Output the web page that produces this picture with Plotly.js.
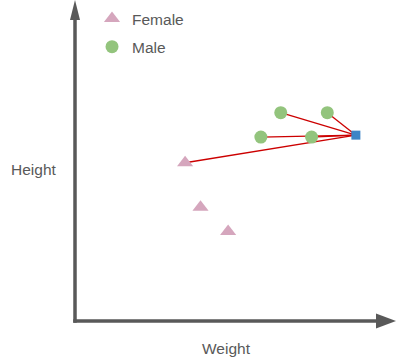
<!DOCTYPE html>
<html><head><meta charset="utf-8">
<script src="https://cdn.plot.ly/plotly-3.0.1.min.js"></script>
<style>html,body{margin:0;padding:0;background:#fff}</style>
</head><body><div id="chart" style="width:396px;height:358px"></div>
<script>
// Data (arbitrary units)
const femaleWeight = [34.3, 39.1, 47.7];
const femaleHeight = [49.3, 35.4, 27.9];
const maleWeight = [64.1, 78.6, 57.9, 73.7];
const maleHeight = [64.9, 64.9, 57.3, 57.3];
const queryWeight = [87.5];
const queryHeight = [57.9];
const neighbourWeight = [64.1, 78.6, 57.9, 73.7, 34.3];
const neighbourHeight = [64.9, 64.9, 57.3, 57.3, 49.3];
const seriesNames = ["Female", "Male"];
const axisTitles = ["Weight", "Height"];

const gray = "#595959";
const txtFont = {family: "Liberation Sans, Arial, sans-serif", size: 15.5, color: gray};

const lx = [], ly = [];
neighbourWeight.forEach((w, i) => {
  lx.push(queryWeight[0], w, null);
  ly.push(queryHeight[0], neighbourHeight[i], null);
});

const traces = [
  {x: lx, y: ly, mode: "lines", line: {color: "#cc0000", width: 1.3}, showlegend: false, hoverinfo: "skip"},
  {x: maleWeight, y: maleHeight, mode: "markers", name: seriesNames[1], legendrank: 2, legendgroup: "m",
   marker: {symbol: "circle", size: 13, color: "#93c47d"}},
  {x: femaleWeight, y: femaleHeight, mode: "markers", name: seriesNames[0], legendrank: 1, legendgroup: "f",
   marker: {symbol: "triangle-up", size: 14, color: "#d5a6bd"}},
  {x: queryWeight, y: queryHeight, mode: "markers", showlegend: false,
   marker: {symbol: "square", size: 9, color: "#3d85c6"}}
];

const axisCommon = {range: [0, 100], showgrid: false, zeroline: false, showline: false,
  showticklabels: false, ticks: "", fixedrange: true};

const layout = {
  width: 396, height: 358,
  margin: {l: 75, r: 0, t: 0, b: 37},
  paper_bgcolor: "#fff", plot_bgcolor: "#fff",
  xaxis: Object.assign({}, axisCommon),
  yaxis: Object.assign({}, axisCommon),
  showlegend: true,
  legend: {xref: "paper", yref: "paper", x: 0.053, y: 0.994, xanchor: "left", yanchor: "top",
    font: txtFont, tracegroupgap: 5, bgcolor: "rgba(0,0,0,0)"},
  shapes: [
    {type: "line", xref: "paper", yref: "paper", x0: -0.0055, x1: 0.94, y0: 0, y1: 0,
     line: {color: gray, width: 3.5}},
    {type: "line", xref: "paper", yref: "paper", x0: 0, x1: 0, y0: -0.0055, y1: 0.94,
     line: {color: gray, width: 3.5}},
    {type: "path", xref: "paper", yref: "paper", path: "M0.9377,0.0234 L1,0 L0.9377,-0.0234 Z",
     fillcolor: gray, line: {width: 0}},
    {type: "path", xref: "paper", yref: "paper", path: "M-0.0156,0.9377 L0,1 L0.0156,0.9377 Z",
     fillcolor: gray, line: {width: 0}}
  ],
  annotations: [
    {text: axisTitles[0], xref: "paper", yref: "paper", x: 0.4735, y: -0.0872, showarrow: false,
     xanchor: "center", yanchor: "middle", font: txtFont},
    {text: axisTitles[1], xref: "paper", yref: "paper", x: -0.1308, y: 0.4735, showarrow: false,
     xanchor: "center", yanchor: "middle", font: txtFont}
  ]
};

Plotly.newPlot("chart", traces, layout, {displayModeBar: false, staticPlot: true});
</script></body></html>
